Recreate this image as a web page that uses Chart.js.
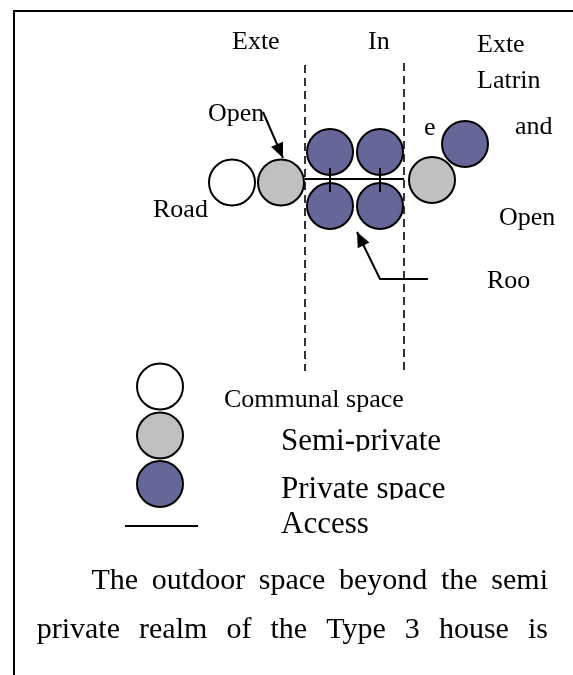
<!DOCTYPE html>
<html><head><meta charset="utf-8">
<script src="https://cdn.jsdelivr.net/npm/chart.js@4.4.1/dist/chart.umd.min.js"></script>
<style>html,body{margin:0;padding:0;background:#fff;overflow:hidden}canvas{display:block}</style>
</head><body>
<canvas id="c" width="573" height="675" style="width:573px;height:675px"></canvas>
<script>
// ---- diagram data (page coordinates: x to the right, y downward) ----
const communalX = [232, 160];
const communalY = [182.5, 386.5];
const semiX = [281, 432, 160];
const semiY = [182.5, 180, 435.5];
const privateX = [330, 380, 330, 380, 465, 160];
const privateY = [152, 152, 206, 206, 144, 484];

const frameX = [14, 14, 574];
const frameY = [676, 11, 11];
const dashLeftX = [305, 305], dashLeftY = [65, 371];
const dashRightX = [404, 404], dashRightY = [63, 371];
const accessX = [305, 404], accessY = [179, 179];
const tick1X = [330, 330], tick1Y = [168, 192];
const tick2X = [380, 380], tick2Y = [168, 192];
const arrow1X = [263, 283], arrow1Y = [112, 158];
const arrow2X = [428, 380, 357], arrow2Y = [279, 279, 232];
const legendAccessX = [125, 198], legendAccessY = [526, 526];

const labelText = ["Exte", "In", "Exte", "Latrin", "Open", "e", "and", "Road", "Open", "Roo",
  "Communal space", "Semi-private", "Private space", "Access"];
const labelX = [232, 368, 477, 477, 208, 424, 515, 153, 499, 487, 224, 281, 281, 281];
const labelY = [49, 49, 52, 88, 121, 135, 134, 217, 225, 288, 407, 450, 498, 533];
const labelSize = [26, 26, 26, 26, 26, 26, 26, 26, 26, 26, 26, 31, 31, 31];
const labelClip = [false, false, false, false, false, false, false, false, false, false, false, true, true, false];

const paraLines = [
  "The outdoor space beyond the semi",
  "private realm of the Type 3 house is"
];
const paraStartX = [91.5, 36.7];
const paraEndX = [548, 548];
const paraY = [589, 638];
const paraSize = 30;

const FONT = '"Liberation Serif", "Times New Roman", serif';

function pts(xs, ys) { return xs.map((x, i) => ({ x: x, y: ys[i] })); }

function lineDs(xs, ys, opts) {
  return Object.assign({
    type: 'scatter', data: pts(xs, ys), showLine: true, pointRadius: 0,
    borderColor: '#000', borderWidth: 2, fill: false, tension: 0, clip: false, order: 0
  }, opts || {});
}
function circleDs(xs, ys, fill) {
  return {
    type: 'scatter', data: pts(xs, ys), showLine: false, pointRadius: 23,
    pointHoverRadius: 23, backgroundColor: fill, pointBackgroundColor: fill,
    borderColor: '#000', pointBorderColor: '#000', pointBorderWidth: 2, clip: false, order: 5
  };
}

const overlay = {
  id: 'overlay',
  afterDatasetsDraw(chart) {
    const ctx = chart.ctx, sx = chart.scales.x, sy = chart.scales.y;
    const px = v => sx.getPixelForValue(v), py = v => sy.getPixelForValue(v);
    ctx.save();
    // arrowheads
    const heads = [[arrow1X, arrow1Y], [arrow2X, arrow2Y]];
    heads.forEach(([xs, ys]) => {
      const n = xs.length;
      const tx = px(xs[n - 1]), ty = py(ys[n - 1]);
      const fx = px(xs[n - 2]), fy = py(ys[n - 2]);
      const a = Math.atan2(ty - fy, tx - fx);
      const L = 15, W = 6.5;
      const bx = tx - L * Math.cos(a), by = ty - L * Math.sin(a);
      ctx.beginPath();
      ctx.moveTo(tx, ty);
      ctx.lineTo(bx + W * Math.sin(a), by - W * Math.cos(a));
      ctx.lineTo(bx - W * Math.sin(a), by + W * Math.cos(a));
      ctx.closePath();
      ctx.fillStyle = '#000';
      ctx.fill();
    });
    // labels
    ctx.fillStyle = '#000';
    ctx.textBaseline = 'alphabetic';
    ctx.textAlign = 'left';
    labelText.forEach((t, i) => {
      ctx.save();
      ctx.font = labelSize[i] + 'px ' + FONT;
      const x = px(labelX[i]), y = py(labelY[i]);
      if (labelClip[i]) {
        ctx.beginPath();
        ctx.rect(x - 5, y - labelSize[i] * 1.2, 400, labelSize[i] * 1.2 + 1.5);
        ctx.clip();
      }
      ctx.fillText(t, x, y);
      ctx.restore();
    });
    // justified paragraph
    ctx.font = paraSize + 'px ' + FONT;
    paraLines.forEach((line, li) => {
      const words = line.split(' ');
      const x0 = px(paraStartX[li]), x1 = px(paraEndX[li]), y = py(paraY[li]);
      const widths = words.map(w => ctx.measureText(w).width);
      const sum = widths.reduce((a, b) => a + b, 0);
      const gap = (x1 - x0 - sum) / (words.length - 1);
      let x = x0;
      words.forEach((w, i) => { ctx.fillText(w, x, y); x += widths[i] + gap; });
    });
    ctx.restore();
  }
};

new Chart(document.getElementById('c'), {
  type: 'scatter',
  data: {
    datasets: [
      lineDs(frameX, frameY),
      lineDs(dashLeftX, dashLeftY, { borderDash: [8, 5], borderWidth: 1.6 }),
      lineDs(dashRightX, dashRightY, { borderDash: [8, 5], borderWidth: 1.6 }),
      lineDs(accessX, accessY),
      lineDs(tick1X, tick1Y),
      lineDs(tick2X, tick2Y),
      lineDs(arrow1X, arrow1Y),
      lineDs(arrow2X, arrow2Y),
      lineDs(legendAccessX, legendAccessY),
      circleDs(communalX, communalY, '#ffffff'),
      circleDs(semiX, semiY, '#c0c0c0'),
      circleDs(privateX, privateY, '#666699')
    ]
  },
  options: {
    responsive: false,
    animation: false,
    events: [],
    layout: { padding: 0, autoPadding: false },
    plugins: { legend: { display: false }, tooltip: { enabled: false }, title: { display: false } },
    scales: {
      x: { type: 'linear', min: 0, max: 573, display: false },
      y: { type: 'linear', min: 0, max: 675, reverse: true, display: false }
    }
  },
  plugins: [overlay]
});
</script>
</body></html>
